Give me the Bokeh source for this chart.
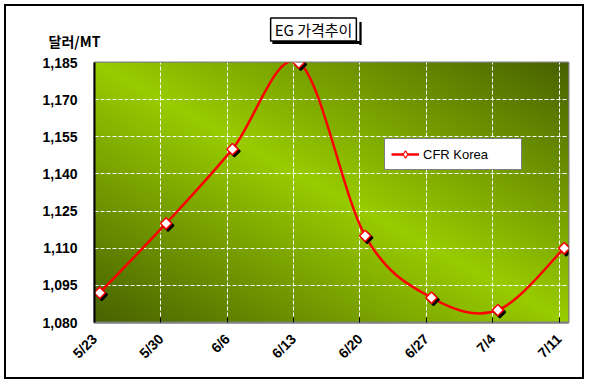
import numpy as np
from math import pi
from bokeh.plotting import figure
from bokeh.models import (Range1d, FixedTicker, NumeralTickFormatter, Label,
                          Legend, LegendItem, ColumnDataSource)
from bokeh.embed import file_html
from bokeh.resources import INLINE

# ---- data ----
dates = ["5/23", "5/30", "6/6", "6/13", "6/20", "6/27", "7/4", "7/11"]
day_offsets = [0, 7, 14, 21, 28, 35, 42, 49]
prices = [1092, 1120, 1150, 1185, 1115, 1090, 1085, 1110]
y_ticks = [1080, 1095, 1110, 1125, 1140, 1155, 1170, 1185]
series_name = "CFR Korea"
title_text = "EG 가격추이"
y_unit = "달러/MT"

# ---- figure geometry ----
W, H = 580, 375
ML, MR, MT, MB = 88, 18, 56, 59
FW, FH = W - ML - MR, H - MT - MB
X0, X1 = 0, 50
Y0, Y1 = 1080, 1185
point_shift = 0.55  # data points sit slightly right of the weekly ticks

p = figure(width=W, height=H, output_backend="svg", toolbar_location=None,
           x_range=Range1d(X0, X1), y_range=Range1d(Y0, Y1),
           min_border_left=ML, min_border_right=MR, min_border_top=MT, min_border_bottom=MB,
           background_fill_color="white", border_fill_color="white",
           styles={"border": "2px solid black", "margin-left": "4px", "margin-top": "4px"})
p.outline_line_color = "#808080"
p.outline_line_width = 2

# ---- gradient background ----
ny, nx = 130, 240
u = np.linspace(0, 1, nx)[None, :]
v = 1 - np.linspace(0, 1, ny)[:, None]
t = np.clip(np.abs(u - v), 0, 1)
bright = np.array([153, 204, 0], dtype=float)
dark = np.array([72, 98, 0], dtype=float)
rgb = bright * (1 - t[..., None]) + dark * t[..., None]
img = np.empty((ny, nx), dtype=np.uint32)
view = img.view(dtype=np.uint8).reshape((ny, nx, 4))
view[..., :3] = rgb.astype(np.uint8)
view[..., 3] = 255
p.image_rgba(image=[img], x=X0, y=Y0, dw=X1 - X0, dh=Y1 - Y0, level="image")

# ---- axes & grid ----
p.xaxis.ticker = FixedTicker(ticks=day_offsets)
p.xaxis.major_label_overrides = {d: s for d, s in zip(day_offsets, dates)}
p.xaxis.major_label_orientation = pi / 4
p.yaxis.ticker = FixedTicker(ticks=y_ticks)
p.yaxis.formatter = NumeralTickFormatter(format="0,0")
for ax in (p.xaxis[0], p.yaxis[0]):
    ax.major_label_text_font = "Liberation Sans"
    ax.major_label_text_font_style = "bold"
    ax.major_label_text_font_size = "14px"
    ax.major_label_text_color = "black"
    ax.minor_tick_line_color = None
p.xaxis.major_tick_in = 5
p.xaxis.major_tick_out = 0
p.xaxis.major_tick_line_color = "black"
p.xaxis.axis_line_color = "#808080"
p.xaxis.axis_line_width = 2
p.xaxis.major_label_standoff = 14
p.yaxis.major_tick_in = 0
p.yaxis.major_tick_out = 0
p.yaxis.axis_line_color = "black"
p.yaxis.axis_line_width = 2
p.yaxis.major_label_standoff = 17

p.xgrid.ticker = FixedTicker(ticks=day_offsets)
p.ygrid.ticker = FixedTicker(ticks=y_ticks)
for g in (p.xgrid[0], p.ygrid[0]):
    g.grid_line_color = "white"
    g.grid_line_dash = "4 2"
    g.grid_line_width = 1

# ---- smoothed line (Catmull-Rom style Bezier through the points) ----
xs = [d + point_shift for d in day_offsets]
ys = prices
n = len(xs)
bx0, by0, bx1, by1, cx0, cy0, cx1, cy1 = [], [], [], [], [], [], [], []
for i in range(n - 1):
    a = max(i - 1, 0)
    b = min(i + 2, n - 1)
    bx0.append(xs[i]); by0.append(ys[i])
    bx1.append(xs[i + 1]); by1.append(ys[i + 1])
    cx0.append(xs[i] + (xs[i + 1] - xs[a]) / 6)
    cy0.append(ys[i] + (ys[i + 1] - ys[a]) / 6)
    cx1.append(xs[i + 1] - (xs[b] - xs[i]) / 6)
    cy1.append(ys[i + 1] - (ys[b] - ys[i]) / 6)
p.bezier(x0=bx0, y0=by0, x1=bx1, y1=by1, cx0=cx0, cy0=cy0, cx1=cx1, cy1=cy1,
         line_color="#FF0000", line_width=2.5)

# marker shadow (2 px down-right), then markers
sdx = 2 * (X1 - X0) / FW
sdy = 2 * (Y1 - Y0) / FH
p.scatter([x + sdx for x in xs], [y - sdy for y in ys], marker="square", angle=pi / 4,
          size=8, fill_color="black", line_color="black", line_width=1.5)
p.scatter(xs, ys, marker="square", angle=pi / 4, size=8,
          fill_color="white", line_color="#FF0000", line_width=1.5)

# legend-only renderers (NaN data, nothing drawn in the plot)
nan_src = ColumnDataSource(data=dict(x=[float("nan")], y=[float("nan")]))
leg_line = p.line(x="x", y="y", source=nan_src, line_color="#FF0000", line_width=2.5)
leg_pt = p.scatter(x="x", y="y", source=nan_src, marker="diamond", size=11,
                   fill_color="white", line_color="#FF0000", line_width=1.2)

legend = Legend(items=[LegendItem(label=series_name, renderers=[leg_line, leg_pt])],
                location=(290, 152), orientation="vertical",
                border_line_color="black", border_line_width=1,
                background_fill_color="white", background_fill_alpha=1.0,
                label_text_font="Liberation Sans", label_text_font_size="13px",
                label_text_color="black",
                glyph_width=28, glyph_height=18, padding=6, margin=0,
                label_standoff=4, label_width=92, spacing=0)
p.add_layout(legend)

# ---- texts above the plot area (side-panel labels; positions relative to frame left / panel bottom) ----
unit_lbl = Label(x=-20, y=22, x_units="screen", y_units="screen", text=y_unit,
                 text_font="Noto Sans CJK KR", text_font_size="14px", text_font_style="bold",
                 text_color="black", text_align="center", text_baseline="middle")
p.add_layout(unit_lbl, "above")
title_lbl = Label(x=219, y=13, x_units="screen", y_units="screen", text=title_text,
                  text_font="Noto Sans CJK KR", text_font_size="15px", text_color="black",
                  text_align="center", text_baseline="middle", padding=(4, 1),
                  background_fill_color="white", border_line_color="black", border_line_width=1.5)
p.add_layout(title_lbl, "above")
# title box shadow: thin black strips below and right of the box
shadow_bottom = Label(x=222, y=-23, x_units="screen", y_units="screen", text=" ",
                      text_font_size="1px", text_align="center", text_baseline="middle",
                      padding=(44, 1), background_fill_color="black")
p.add_layout(shadow_bottom, "above")
shadow_right = Label(x=-208, y=289, x_units="screen", y_units="screen", text=" ",
                     text_font_size="1px", text_align="center", text_baseline="middle",
                     padding=(1, 11), background_fill_color="black")
p.add_layout(shadow_right, "right")

open("out.html", "w").write(file_html(p, INLINE))
